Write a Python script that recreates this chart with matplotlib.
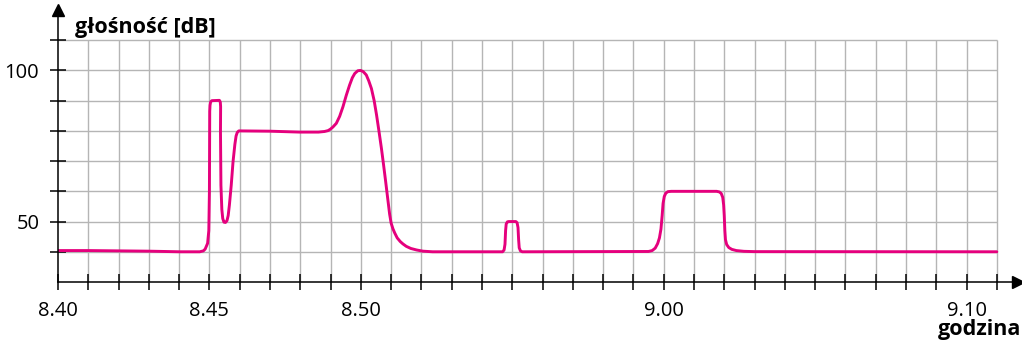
import numpy as np
import matplotlib
matplotlib.use('Agg')
import matplotlib.pyplot as plt

plt.rcParams['font.family'] = ['Open Sans', 'DejaVu Sans']

# czas w minutach od 8.40 i głośność w dB
minuty = [0, 1, 3, 4.02, 4.68, 4.8, 4.86, 4.94, 4.98, 5.0, 5.01, 5.02, 5.04, 5.08,
          5.33, 5.36, 5.37, 5.365, 5.38, 5.41, 5.44, 5.48, 5.53, 5.58, 5.62, 5.66,
          5.72, 5.78, 5.84, 5.88, 5.92, 5.97, 7.0, 7.98, 8.6, 8.8, 8.92, 9.0, 9.08,
          9.19, 9.3, 9.41, 9.52, 9.63, 9.72, 9.8, 9.9, 9.99, 10.08, 10.18, 10.26,
          10.35, 10.44, 10.52, 10.6, 10.68, 10.75, 10.82, 10.89, 10.95, 11.0, 11.06,
          11.12, 11.2, 11.3, 11.39, 11.5, 11.65, 11.84, 12.05, 12.37,
          14.68, 14.73, 14.76, 14.78, 14.8, 14.84, 14.88, 15.12, 15.16, 15.19, 15.21,
          15.23, 15.27, 15.33,
          19.5, 19.62, 19.72, 19.8, 19.86, 19.91, 19.95, 19.98, 20.02, 20.07, 20.14,
          20.25, 21.75, 21.84, 21.9, 21.95, 21.98, 22.0, 22.02, 22.04, 22.08, 22.15,
          22.25, 22.4, 22.65, 23.0, 31]
glosnosc = [40.4, 40.4, 40.2, 40.0, 40.0, 40.3, 40.9, 42.8, 47.0, 60.0, 86.5, 88.5,
            89.6, 90.0, 90.1, 89.5, 88.0, 80.0, 62.0, 54.0, 51.0, 49.8, 49.7, 50.3,
            52.0, 55.5, 62.0, 69.8, 75.5, 78.3, 79.5, 80.0, 79.9, 79.6, 79.6, 79.8,
            80.1, 80.6, 81.3, 82.5, 84.8, 88.0, 91.8, 95.2, 97.6, 99.0, 99.9, 100.0,
            99.6, 98.5, 96.6, 94.0, 90.0, 85.2, 79.8, 74.2, 68.8, 63.2, 57.4, 52.5,
            49.5, 47.6, 46.2, 44.6, 43.4, 42.6, 41.8, 41.1, 40.6, 40.2, 40.0,
            40.0, 40.6, 42.5, 47.0, 49.2, 49.9, 50.0, 50.0, 49.6, 48.0, 44.0,
            41.3, 40.3, 40.0,
            40.1, 40.4, 41.2, 42.7, 44.6, 47.5, 52.0, 56.0, 58.3, 59.4, 59.9,
            60.0, 60.0, 59.8, 59.3, 58.0, 55.5, 52.0, 47.0, 44.0, 42.4, 41.4,
            40.8, 40.4, 40.15, 40.05, 40.0]

x_ticks = list(range(0, 32))
x_labels = {0: '8.40', 5: '8.45', 10: '8.50', 20: '9.00', 30: '9.10'}
y_ticks = list(range(40, 111, 10))
y_labels = {50: '50', 100: '100'}

fig = plt.figure(figsize=(10.22, 3.41), dpi=100)
ax = fig.add_axes([58 / 1022, 59 / 341, 960 / 1022, 272 / 341])
ax.set_xlim(0, 31.7)
ax.set_ylim(30, 120)

# siatka
grid_c = '#b5b5b5'
ax.vlines(x_ticks[1:], 30, 110, color=grid_c, lw=1.0, zorder=1)
ax.hlines(y_ticks, 0, 31, color=grid_c, lw=1.0, zorder=1)

ax.plot(minuty, glosnosc, color='#e5007d', lw=2.1, solid_joinstyle='round',
        solid_capstyle='round', zorder=3)

for s in ['top', 'right']:
    ax.spines[s].set_visible(False)
for s in ['left', 'bottom']:
    ax.spines[s].set_linewidth(1.1)
    ax.spines[s].set_zorder(4)

# strzałki na końcach osi
ax.plot(1, 30, '>', color='black', ms=8, transform=ax.get_yaxis_transform(), clip_on=False, zorder=5)
ax.plot(0, 1, '^', color='black', ms=8, transform=ax.get_xaxis_transform(), clip_on=False, zorder=5)

ax.set_xticks(x_ticks)
ax.set_xticklabels([x_labels.get(t, '') for t in x_ticks])
ax.set_yticks(y_ticks)
ax.set_yticklabels([y_labels.get(t, '') for t in y_ticks])
ax.tick_params(direction='inout', length=11, width=1.1, labelsize=14.5, pad=8)

fig.text(75 / 1022, 1 - 28 / 341, 'głośność [dB]', fontsize=15.5, fontweight='bold',
         ha='left', va='center')
fig.text(1021 / 1022, 1 - 330 / 341, 'godzina', fontsize=15.5, fontweight='bold',
         ha='right', va='center')

fig.savefig('out.png', dpi=100)
